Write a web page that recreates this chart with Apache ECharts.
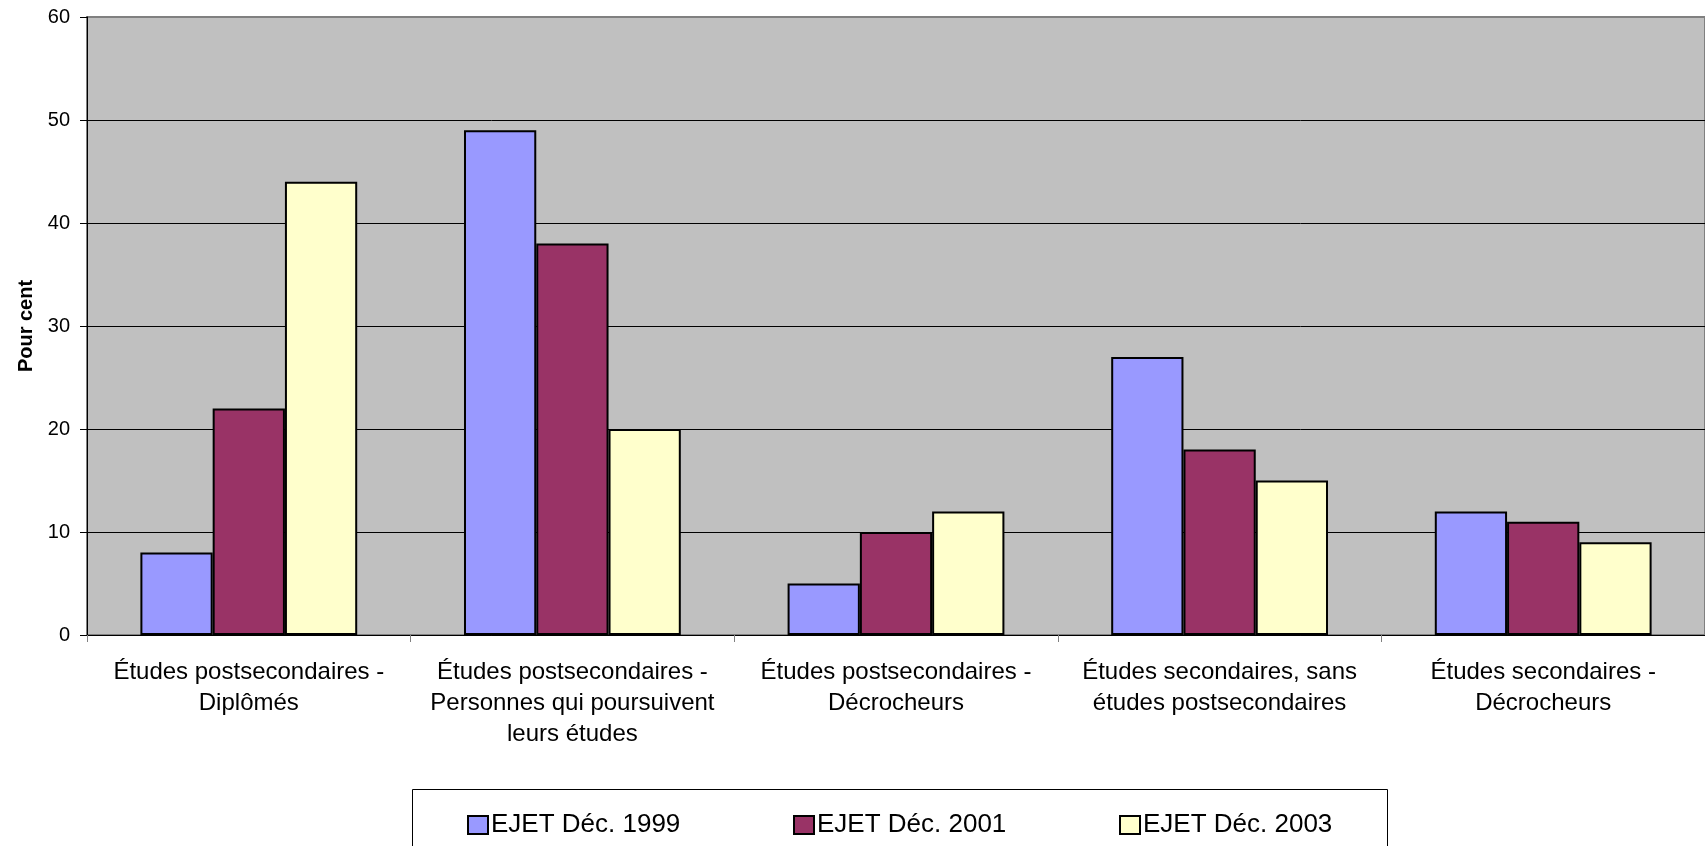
<!DOCTYPE html>
<html>
<head>
<meta charset="utf-8">
<script src="https://cdn.jsdelivr.net/npm/echarts@6/dist/echarts.min.js"></script>
<style>
html,body{margin:0;padding:0;background:#fff;}
#c{width:1705px;height:846px;}
</style>
</head>
<body>
<div id="c"></div>
<script>
const categories = [
  "Études postsecondaires -\nDiplômés",
  "Études postsecondaires -\nPersonnes qui poursuivent\nleurs études",
  "Études postsecondaires -\nDécrocheurs",
  "Études secondaires, sans\nétudes postsecondaires",
  "Études secondaires -\nDécrocheurs"
];
const seriesNames = ["EJET Déc. 1999", "EJET Déc. 2001", "EJET Déc. 2003"];
const s1999 = [8, 49, 5, 27, 12];
const s2001 = [22, 38, 10, 18, 11];
const s2003 = [44, 20, 12, 15, 9];
const yTitle = "Pour cent";

const colors = ["#9999FF", "#993366", "#FFFFCC"];
const font = "Arial, 'Liberation Sans', sans-serif";

const chart = echarts.init(document.getElementById('c'));
function mkSeries(name, data, color) {
  return {
    name: name, type: 'bar', data: data,
    barGap: '0%', barCategoryGap: '33%',
    itemStyle: { color: color, borderColor: '#000', borderWidth: 2 },
    emphasis: { disabled: true }
  };
}
function mkLegend(name, left) {
  return {
    data: [name], left: left, top: 812, icon: 'rect',
    itemWidth: 20, itemHeight: 18, itemGap: 0, padding: 0,
    textStyle: { fontFamily: font, fontSize: 26, color: '#000', padding: [0, 0, 0, -2] },
    selectedMode: false
  };
}
chart.setOption({
  animation: false,
  backgroundColor: '#fff',
  grid: {
    left: 87, top: 17, width: 1621, height: 618,
    show: true, backgroundColor: '#C0C0C0', borderColor: '#808080', borderWidth: 2
  },
  graphic: [{
    type: 'rect', left: 412, top: 789, z: -1,
    shape: { width: 975, height: 80 },
    style: { fill: '#fff', stroke: '#000', lineWidth: 1 }
  }],
  legend: [mkLegend(seriesNames[0], 467), mkLegend(seriesNames[1], 793), mkLegend(seriesNames[2], 1119)],
  xAxis: {
    type: 'category', data: categories,
    axisLine: { lineStyle: { color: '#000', width: 1 } },
    axisTick: { show: true, length: 7, lineStyle: { color: '#808080' } },
    axisLabel: { fontFamily: font, fontSize: 24, color: '#000', lineHeight: 31, margin: 22, interval: 0 }
  },
  yAxis: {
    type: 'value', min: 0, max: 60, interval: 10,
    name: yTitle, nameLocation: 'middle', nameGap: 51,
    nameTextStyle: { fontFamily: font, fontSize: 20, fontWeight: 'bold', color: '#000' },
    axisLine: { show: true, lineStyle: { color: '#000', width: 1 } },
    axisTick: { show: true, length: 7, lineStyle: { color: '#000' } },
    axisLabel: { fontFamily: font, fontSize: 20, color: '#000', margin: 17 },
    splitLine: { show: true, lineStyle: { color: ['#000', '#000', '#000', '#000', '#000', '#000', '#808080'], width: 1 } }
  },
  series: [mkSeries(seriesNames[0], s1999, colors[0]), mkSeries(seriesNames[1], s2001, colors[1]), mkSeries(seriesNames[2], s2003, colors[2])]
});
</script>
</body>
</html>
